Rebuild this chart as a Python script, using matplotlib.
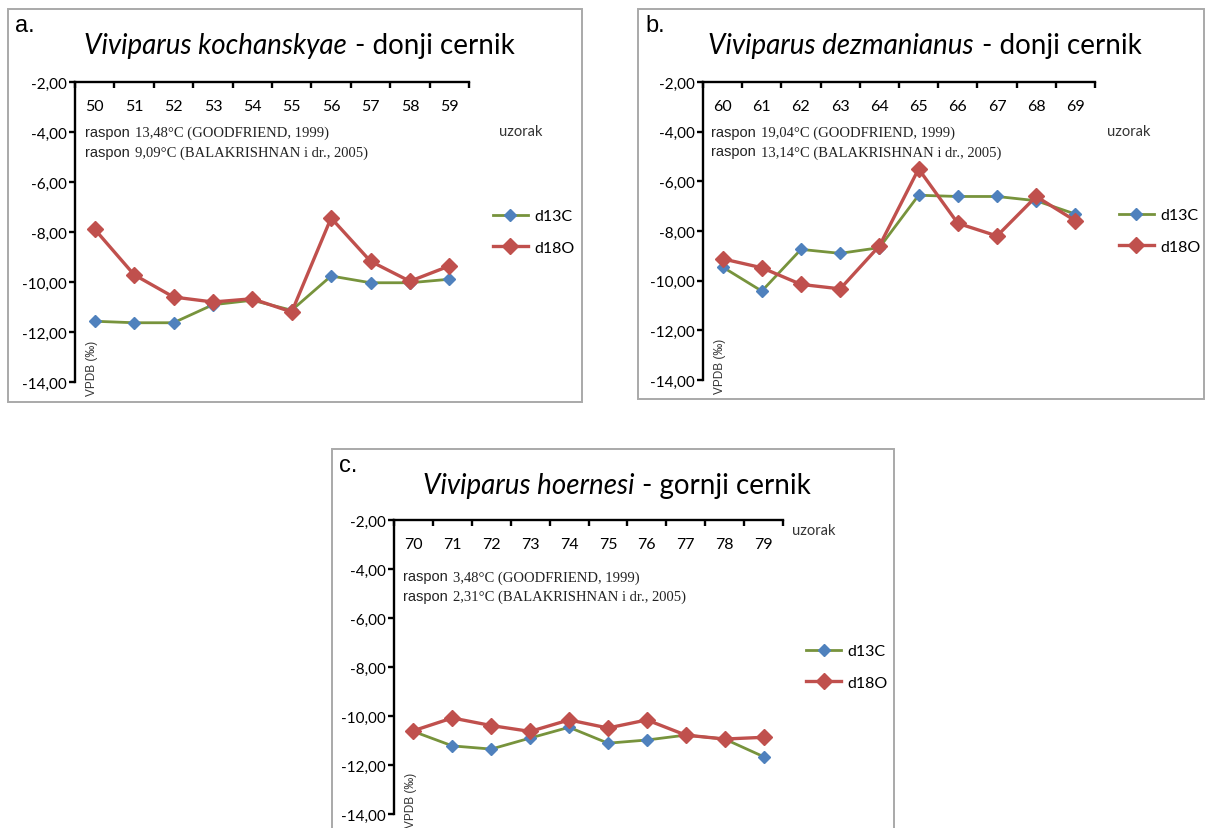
import numpy as np
import matplotlib
matplotlib.use('Agg')
from matplotlib import pyplot as plt
from matplotlib import font_manager
from matplotlib.offsetbox import TextArea, HPacker, VPacker, AnchoredOffsetbox
from matplotlib.patches import Rectangle

W, H = 1208, 829

# ---- data ----
samples_a = ['50', '51', '52', '53', '54', '55', '56', '57', '58', '59']
d13c_a = [-11.57, -11.63, -11.63, -10.91, -10.73, -11.13, -9.76, -10.03, -10.03, -9.89]
d18o_a = [-7.89, -9.71, -10.60, -10.80, -10.67, -11.20, -7.44, -9.17, -9.97, -9.36]

samples_b = ['60', '61', '62', '63', '64', '65', '66', '67', '68', '69']
d13c_b = [-9.45, -10.42, -8.74, -8.90, -8.67, -6.56, -6.61, -6.61, -6.78, -7.32]
d18o_b = [-9.12, -9.48, -10.15, -10.33, -8.60, -5.50, -7.69, -8.20, -6.61, -7.59]

samples_c = ['70', '71', '72', '73', '74', '75', '76', '77', '78', '79']
d13c_c = [-10.63, -11.22, -11.35, -10.90, -10.46, -11.11, -10.98, -10.78, -10.94, -11.66]
d18o_c = [-10.60, -10.08, -10.39, -10.63, -10.16, -10.49, -10.16, -10.78, -10.94, -10.87]

ytick_vals = [-2, -4, -6, -8, -10, -12, -14]
ytick_labels = ['-2,00', '-4,00', '-6,00', '-8,00', '-10,00', '-12,00', '-14,00']

GREEN = '#77933C'
BLUE = '#4F81BD'
RED = '#C0504D'
SANS = 'Lato'
SERIF = 'Liberation Serif'
names = {f.name for f in font_manager.fontManager.ttflist}
NARROW = 'Liberation Sans Narrow' if 'Liberation Sans Narrow' in names else 'Liberation Sans'

fig = plt.figure(figsize=(W / 100, H / 100), dpi=100)


def fx(x):
    return x / W


def fy(y):
    return 1 - y / H


def panel(box, axbox, letter, species, place, samples, c13, o18,
          notes, note_xy, uz_xy):
    x0, y0, x1, y1 = box
    fig.patches.append(Rectangle((fx(x0), fy(y1)), (x1 - x0) / W, (y1 - y0) / H,
                                 transform=fig.transFigure, fill=False,
                                 ec='#A9A9A9', lw=1.4))
    fig.text(fx(x0 + 7), fy(y0 + 16), letter, fontsize=17,
             family='Liberation Sans', va='center', ha='left')

    # title: italic species + regular place
    t1 = TextArea(species, textprops=dict(fontsize=20, style='italic', family=SANS))
    t2 = TextArea('- ' + place, textprops=dict(fontsize=20, family=SANS))
    title = AnchoredOffsetbox(loc='center', child=HPacker(children=[t1, t2], sep=6, pad=0),
                              pad=0, borderpad=0, frameon=False,
                              bbox_to_anchor=(fx((x0 + x1) / 2 + 4), fy(y0 + 36)),
                              bbox_transform=fig.transFigure)
    fig.add_artist(title)

    l, r, t, b = axbox
    ax = fig.add_axes([fx(l), fy(b), (r - l) / W, (b - t) / H])
    x = np.arange(len(samples)) + 0.5
    ax.plot(x, c13, color=GREEN, lw=2.0, marker='D', ms=6.5, mfc=BLUE, mec=BLUE,
            label='d13C', clip_on=False)
    ax.plot(x, o18, color=RED, lw=2.4, marker='D', ms=8.5, mfc=RED, mec=RED,
            label='d18O', clip_on=False)
    ax.set_xlim(0, len(samples))
    ax.set_ylim(-14, -2)

    ax.spines['top'].set_visible(False)
    ax.spines['right'].set_visible(False)
    ax.spines['bottom'].set_position(('data', -2))
    for s in ('left', 'bottom'):
        ax.spines[s].set_linewidth(1.7)

    ax.set_yticks(ytick_vals, labels=ytick_labels)
    ax.tick_params(axis='y', direction='out', length=4, width=1.7, pad=2,
                   labelsize=11)
    ax.set_xticks(x, labels=samples)
    ax.set_xticks(np.arange(len(samples) + 1), minor=True)
    ax.tick_params(axis='x', which='major', length=0, pad=12, labelsize=11.5)
    ax.tick_params(axis='x', which='minor', direction='out', length=4, width=1.7)
    for lab in ax.get_xticklabels() + ax.get_yticklabels():
        lab.set_family(SANS)

    # range notes: sans "raspon" + Times remainder
    rows = []
    for n in notes:
        rows.append(HPacker(children=[
            TextArea('raspon', textprops=dict(fontsize=10.5, family=NARROW, color='#222222')),
            TextArea(n, textprops=dict(fontsize=10.5, family=SERIF, color='#222222'))],
            sep=4, pad=0))
    note = AnchoredOffsetbox(loc='upper left', child=VPacker(children=rows, sep=4, pad=0, align='left'),
                             pad=0, borderpad=0, frameon=False,
                             bbox_to_anchor=note_xy, bbox_transform=ax.transData)
    ax.add_artist(note)

    ax.text(0.043, -0.045, 'VPDB (‰)', transform=ax.transAxes, rotation=90,
            ha='center', va='bottom', fontsize=8.5, family='Liberation Sans',
            color='#333333')
    fig.text(fx(uz_xy[0]), fy(uz_xy[1]), 'uzorak', fontsize=10.5, family=SANS,
             ha='left', va='center', color='#333333')

    ax.legend(loc='center left', bbox_to_anchor=(1.06, 0.5), frameon=False,
              borderaxespad=0, borderpad=0, handlelength=2.2, handletextpad=0.4,
              labelspacing=1.1, prop=dict(family=SANS, size=11.5))
    return ax


panel((8, 10, 582, 403), (75, 469, 83, 383), 'a.', 'Viviparus kochanskyae', 'donji cernik',
      samples_a, d13c_a, d18o_a,
      ['13,48°C (GOODFRIEND, 1999)', '9,09°C (BALAKRISHNAN i dr., 2005)'],
      (0.25, -3.72), (499, 132))
panel((638, 10, 1204, 400), (703, 1095, 83, 381), 'b.', 'Viviparus dezmanianus', 'donji cernik',
      samples_b, d13c_b, d18o_b,
      ['19,04°C (GOODFRIEND, 1999)', '13,14°C (BALAKRISHNAN i dr., 2005)'],
      (0.2, -3.72), (1107, 132))
panel((332, 450, 894, 840), (394, 783, 521, 815), 'c.', 'Viviparus hoernesi', 'gornji cernik',
      samples_c, d13c_c, d18o_c,
      ['3,48°C (GOODFRIEND, 1999)', '2,31°C (BALAKRISHNAN i dr., 2005)'],
      (0.22, -4.02), (792, 531))

fig.savefig('out.png', dpi=100)
